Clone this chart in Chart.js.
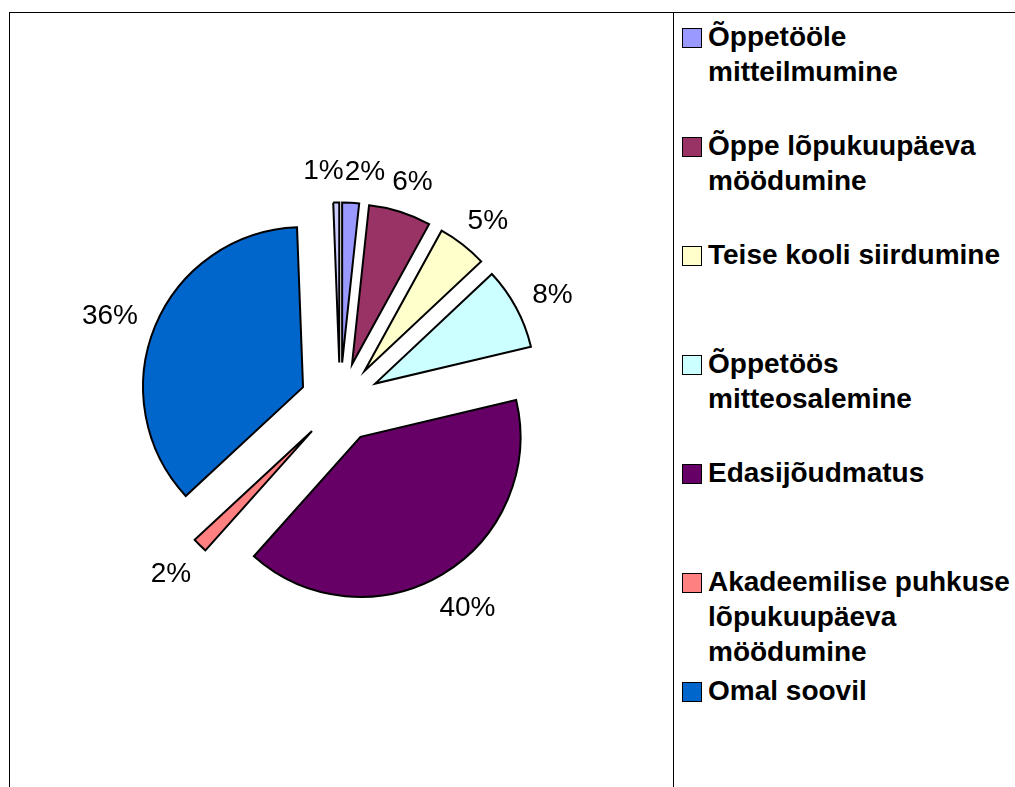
<!DOCTYPE html>
<html>
<head>
<meta charset="utf-8">
<script src="https://cdn.jsdelivr.net/npm/chart.js@4.4.1/dist/chart.umd.min.js"></script>
<style>
  html, body { margin: 0; padding: 0; background: #fff; overflow: hidden; }
  body { width: 1015px; height: 787px; position: relative; font-family: "Liberation Sans", Arial, sans-serif; }
  .line { position: absolute; background: #000; }
  #plot { position: absolute; left: 10px; top: 13px; width: 663px; height: 774px; }
  #legend { position: absolute; left: 681px; top: 0; width: 334px; height: 787px; }
  .item { position: absolute; left: 0; white-space: nowrap; }
  .box { position: absolute; left: 1px; top: 9px; width: 18px; height: 18px; border: 1px solid #000; }
  .txt { margin-left: 27px; font-weight: bold; font-size: 28px; line-height: 35px; color: #000; }
</style>
</head>
<body>
<div class="line" style="left:9px; top:12px; width:1006px; height:1px;"></div>
<div class="line" style="left:9px; top:12px; width:1px; height:775px;"></div>
<div class="line" style="left:673px; top:12px; width:1px; height:775px;"></div>
<div id="plot"><canvas id="pie"></canvas></div>
<div id="legend"></div>

<script>
// categories, clockwise from 12 o'clock
const categories = [
  ['Õppetööle', 'mitteilmumine'],
  ['Õppe lõpukuupäeva', 'möödumine'],
  ['Teise kooli siirdumine'],
  ['Õppetöös', 'mitteosalemine'],
  ['Edasijõudmatus'],
  ['Akadeemilise puhkuse', 'lõpukuupäeva', 'möödumine'],
  ['Omal soovil'],
  ['Muu']
];
// shares in %
const values = [1.7, 6.3, 5.0, 8.3, 40.3, 1.5, 36.3, 0.6];
const colors = ['#9999FF', '#993366', '#FFFFCC', '#CCFFFF', '#660066', '#FF8080', '#0066CC', '#CCCCFF'];

const total = values.reduce((a, b) => a + b, 0);
const RADIUS = 160;
const EXPLODE = 40;

// the built-in arc offset also grows and narrows small slices,
// so pull every slice out by the same distance instead
const explode = {
  id: 'explode',
  afterDatasetUpdate(chart, args) {
    args.meta.data.forEach(arc => {
      const mid = (arc.startAngle + arc.endAngle) / 2;
      arc.x += Math.cos(mid) * EXPLODE;
      arc.y += Math.sin(mid) * EXPLODE;
    });
  }
};

const pctLabels = {
  id: 'pctLabels',
  afterDatasetsDraw(chart) {
    const ctx = chart.ctx;
    const meta = chart.getDatasetMeta(0);
    ctx.save();
    ctx.font = '28px "Liberation Sans", Arial, sans-serif';
    ctx.fillStyle = '#000';
    ctx.textAlign = 'center';
    ctx.textBaseline = 'middle';
    let items = meta.data.map((arc, i) => {
      const p = arc.getProps(['x', 'y', 'startAngle', 'endAngle'], true);
      const mid = (p.startAngle + p.endAngle) / 2;
      const cos = Math.cos(mid), sin = Math.sin(mid);
      const d = RADIUS + 21;
      const text = Math.round(values[i] / total * 100) + '%';
      const w = ctx.measureText(text).width;
      return { text, w, x: p.x + cos * d + cos * w / 2, y: p.y + sin * d + sin * 14 + 4 };
    });
    // push apart neighbours that overlap
    for (let i = 0; i < items.length; i++) {
      const a = items[i], b = items[(i + 1) % items.length];
      const need = (a.w + b.w) / 2 + 1;
      const dx = b.x - a.x;
      if (Math.abs(dx) < need && Math.abs(b.y - a.y) < 28) {
        const s = (need - Math.abs(dx)) / 2;
        if (dx >= 0) { a.x -= s; b.x += s; } else { a.x += s; b.x -= s; }
      }
    }
    items.forEach(it => ctx.fillText(it.text, it.x, it.y));
    ctx.restore();
  }
};

const htmlLegend = {
  id: 'htmlLegend',
  afterUpdate(chart) {
    const el = document.getElementById('legend');
    el.innerHTML = '';
    const items = chart.options.plugins.legend.labels.generateLabels(chart);
    // the last entry falls below the cropped picture
    items.filter(it => it.index < 7).forEach((it, i) => {
      const row = document.createElement('div');
      row.className = 'item';
      row.style.top = (19 + i * 109) + 'px';
      const box = document.createElement('span');
      box.className = 'box';
      box.style.background = it.fillStyle;
      const txt = document.createElement('div');
      txt.className = 'txt';
      const lines = Array.isArray(it.text) ? it.text : [it.text];
      lines.forEach((l, k) => {
        if (k) txt.appendChild(document.createElement('br'));
        txt.appendChild(document.createTextNode(l));
      });
      row.appendChild(box);
      row.appendChild(txt);
      el.appendChild(row);
    });
  }
};

new Chart('pie', {
  type: 'pie',
  plugins: [explode, pctLabels, htmlLegend],
  data: {
    labels: categories,
    datasets: [
      {
        data: values,
        backgroundColor: colors,
        borderColor: '#000',
        borderWidth: 2,
        borderJoinStyle: 'miter',
        radius: RADIUS
      }
    ]
  },
  options: {
    responsive: true,
    maintainAspectRatio: false,
    animation: false,
    layout: {
      padding: { left: 0, right: 3, top: 5, bottom: 0 }
    },
    plugins: {
      legend: { display: false },
      tooltip: { enabled: false }
    }
  }
});
</script>
</body>
</html>
